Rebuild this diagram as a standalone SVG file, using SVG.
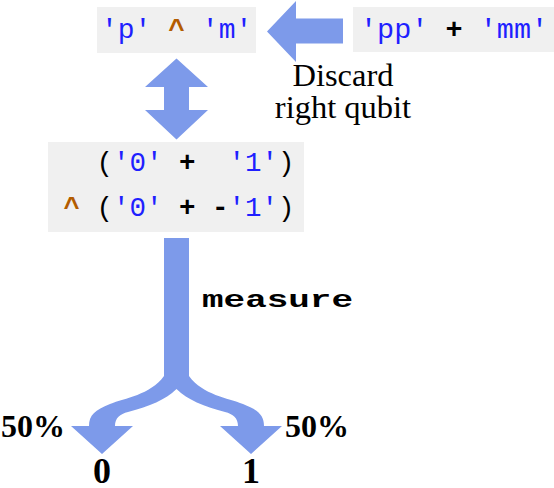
<svg xmlns="http://www.w3.org/2000/svg" width="554" height="488" viewBox="0 0 554 488">
<style>
.box{fill:#f0f0f0}
.arrow{fill:#7d9aea}
.code{font-family:"Liberation Mono","DejaVu Sans Mono",monospace}
.q{fill:#1f1fff}
.op{fill:#b35c00;font-weight:bold}
.k{fill:#000;font-weight:bold}
.p{fill:#000}
.lbl{font-family:"Liberation Serif","Times New Roman",serif;fill:#000}
.b{font-weight:bold}
</style>
<g id="connectors">
<polygon class="arrow" points="267,31.5 296,1 296,18.5 343,18.5 343,43.5 296,43.5 296,62"/>
<polygon class="arrow" points="176.5,58.5 208,87 189,87 189,110 208,110 176.5,139.5 145,110 164,110 164,87 145,87"/>
<path class="arrow" d="M164,238 H189 V376 C203,395 228,398 243,404 C258,410 264,415 264,426 H282 L251,454 L220,426 H238 C238,418 233,414 225,412 C203,406 188,400 176.5,389 C165,400 150,406 128,412 C120,414 115,418 115,426 H133 L102,454 L71,426 H89 C89,415 95,410 110,404 C125,398 150,395 164,376 Z"/>
<text class="code k" x="202" y="307" font-size="24" textLength="151" lengthAdjust="spacingAndGlyphs">measure</text>
<text class="lbl" x="343" y="86" font-size="32.5" text-anchor="middle">Discard</text>
<text class="lbl" x="343" y="118" font-size="32.5" text-anchor="middle">right qubit</text>
<text class="lbl b" x="1" y="437" font-size="32">50%</text>
<text class="lbl b" x="285" y="437" font-size="32">50%</text>
</g>
<g id="node-pm">
<rect class="box" x="97" y="7" width="159" height="46"/>
<text class="code" x="101" y="38" font-size="28"><tspan class="q">'p'</tspan> <tspan class="op">^</tspan> <tspan class="q">'m'</tspan></text>
</g>
<g id="node-ppmm">
<rect class="box" x="353" y="7" width="201" height="45"/>
<text class="code" x="360" y="38" font-size="28.5"><tspan class="q">'pp'</tspan> <tspan class="k">+</tspan> <tspan class="q">'mm'</tspan></text>
</g>
<g id="node-product">
<rect class="box" x="48" y="142" width="256" height="90"/>
<text class="code" x="63.4" y="171" font-size="27.5" xml:space="preserve"><tspan class="p">  (</tspan><tspan class="q">'0'</tspan> <tspan class="k">+</tspan>  <tspan class="q">'1'</tspan><tspan class="p">)</tspan></text>
<text class="code" x="63.4" y="216" font-size="27.5" xml:space="preserve"><tspan class="op">^</tspan><tspan class="p"> (</tspan><tspan class="q">'0'</tspan> <tspan class="k">+</tspan> <tspan class="k">-</tspan><tspan class="q">'1'</tspan><tspan class="p">)</tspan></text>
</g>
<g id="node-0">
<text class="lbl b" x="102" y="483" font-size="36" text-anchor="middle">0</text>
</g>
<g id="node-1">
<text class="lbl b" x="251" y="483" font-size="36" text-anchor="middle">1</text>
</g>
</svg>
